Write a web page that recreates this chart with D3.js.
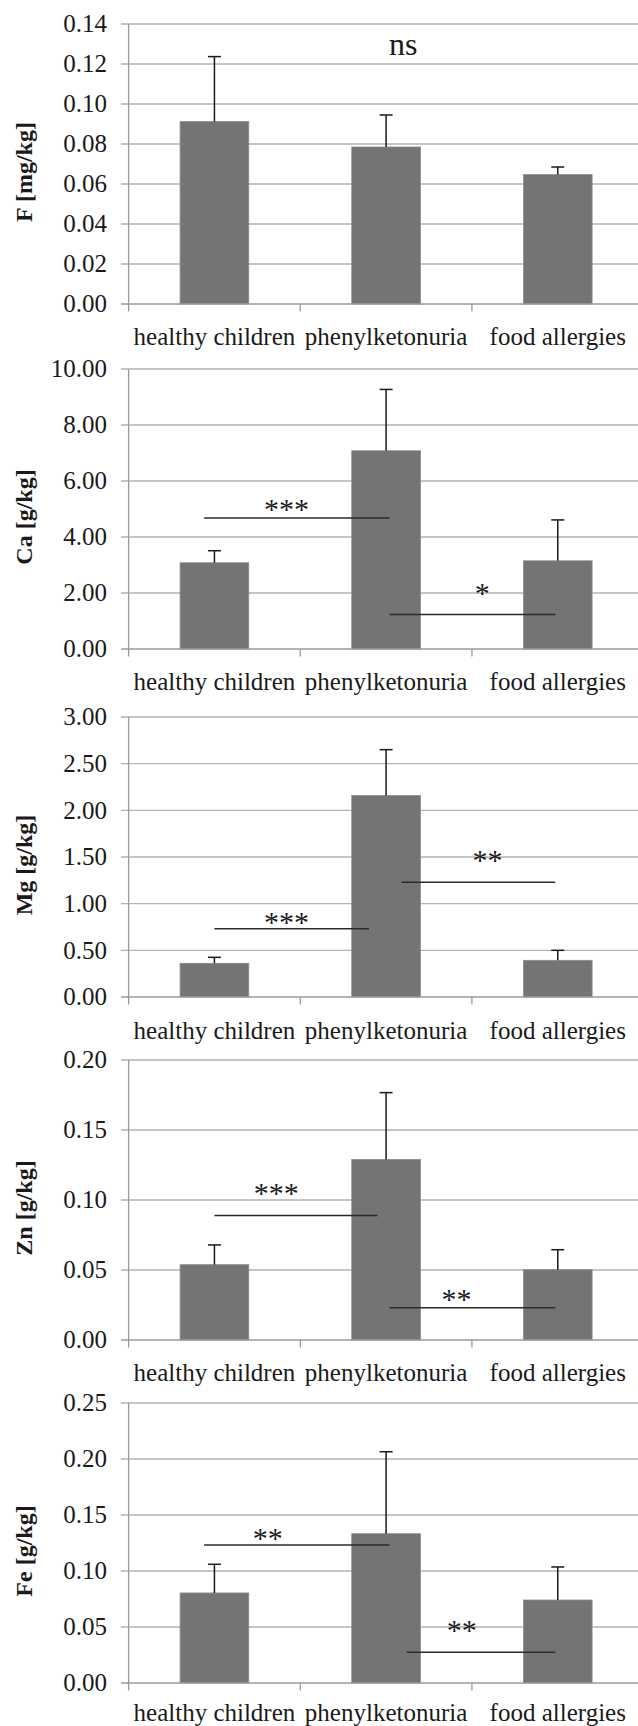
<!DOCTYPE html>
<html>
<head>
<meta charset="utf-8">
<script src="https://cdn.jsdelivr.net/npm/d3@7"></script>
<style>
  html, body { margin: 0; padding: 0; background: #fff; }
  svg { display: block; }
</style>
</head>
<body>
<svg id="chart" width="638" height="1726"></svg>
<script>
// ---------- data ----------
const categories = ["healthy children", "phenylketonuria", "food allergies"];

const fMeans  = [0.0912, 0.0785, 0.0647];
const fErrors = [0.0325, 0.0160, 0.0038];
const fTicks  = [0, 0.02, 0.04, 0.06, 0.08, 0.10, 0.12, 0.14];

const caMeans  = [3.08, 7.08, 3.15];
const caErrors = [0.43, 2.19, 1.46];
const caTicks  = [0, 2, 4, 6, 8, 10];

const mgMeans  = [0.361, 2.16, 0.393];
const mgErrors = [0.064, 0.49, 0.107];
const mgTicks  = [0, 0.5, 1.0, 1.5, 2.0, 2.5, 3.0];

const znMeans  = [0.0538, 0.129, 0.0502];
const znErrors = [0.0141, 0.0477, 0.0143];
const znTicks  = [0, 0.05, 0.10, 0.15, 0.20];

const feMeans  = [0.0804, 0.1333, 0.0741];
const feErrors = [0.0256, 0.0732, 0.0295];
const feTicks  = [0, 0.05, 0.10, 0.15, 0.20, 0.25];

// significance annotations: from/to/labelAt in category-index units, values in data units
const fSig  = [{ label: "ns", from: null, to: null, value: null, labelAt: 1.10, labelValue: 0.128, big: true }];
const caSig = [
  { label: "***", from: -0.06, to: 1.02, value: 4.68, labelAt: 0.42, labelValue: 5.14 },
  { label: "*",   from: 1.02, to: 1.985, value: 1.23, labelAt: 1.56, labelValue: 2.13 }
];
const mgSig = [
  { label: "***", from: 0.0, to: 0.90, value: 0.73, labelAt: 0.42, labelValue: 0.846 },
  { label: "**",  from: 1.09, to: 1.985, value: 1.229, labelAt: 1.59, labelValue: 1.507 }
];
const znSig = [
  { label: "***", from: 0.0, to: 0.95, value: 0.089, labelAt: 0.36, labelValue: 0.1079 },
  { label: "**",  from: 1.02, to: 1.985, value: 0.0231, labelAt: 1.41, labelValue: 0.0319 }
];
const feSig = [
  { label: "**", from: -0.06, to: 1.02, value: 0.1232, labelAt: 0.31, labelValue: 0.1333 },
  { label: "**", from: 1.12, to: 1.985, value: 0.0274, labelAt: 1.44, labelValue: 0.0506 }
];

// ---------- layout ----------
const panels = [
  { ylabel: "F [mg/kg]",  means: fMeans,  errors: fErrors,  ticks: fTicks,  sig: fSig,  top: 24,   bottom: 304,  catDy: 41 },
  { ylabel: "Ca [g/kg]",  means: caMeans, errors: caErrors, ticks: caTicks, sig: caSig, top: 369,  bottom: 649,  catDy: 41 },
  { ylabel: "Mg [g/kg]",  means: mgMeans, errors: mgErrors, ticks: mgTicks, sig: mgSig, top: 717,  bottom: 997,  catDy: 41.5 },
  { ylabel: "Zn [g/kg]",  means: znMeans, errors: znErrors, ticks: znTicks, sig: znSig, top: 1060, bottom: 1340, catDy: 40.5 },
  { ylabel: "Fe [g/kg]",  means: feMeans, errors: feErrors, ticks: feTicks, sig: feSig, top: 1403, bottom: 1683, catDy: 37.5 }
];

const W = 638;
const axisX = 128.6;
const plotRight = 643.6;
const fs = 25;
const FONT = "'Liberation Serif', 'Times New Roman', Times, 'DejaVu Serif', serif";

const svg = d3.select("#chart")
  .attr("font-family", FONT);

const x = d3.scaleBand().domain(categories).range([axisX, plotRight]).padding(0);
const xi = d3.scaleLinear().domain([-0.5, 2.5]).range([axisX, plotRight]);
const barW = x.bandwidth() * 0.4;

panels.forEach(p => {
  const maxV = p.ticks[p.ticks.length - 1];
  const y = d3.scaleLinear().domain([0, maxV]).range([p.bottom, p.top]);
  const g = svg.append("g");

  // gridlines
  g.selectAll("line.grid").data(p.ticks.slice(1)).join("line")
    .attr("x1", axisX - 7.6).attr("x2", W)
    .attr("y1", d => y(d)).attr("y2", d => y(d))
    .attr("stroke", "#b3b3b3").attr("stroke-width", 1.3);

  // tick labels
  const fmt = d3.format(".2f");
  g.selectAll("text.tick").data(p.ticks).join("text")
    .attr("x", 107).attr("y", d => y(d))
    .attr("dy", "0.33em")
    .attr("text-anchor", "end")
    .attr("font-family", FONT)
    .attr("font-size", fs)
    .attr("fill", "#1a1a1a")
    .text(d => fmt(d));

  // bars
  g.selectAll("rect.bar").data(p.means).join("rect")
    .attr("x", (d, i) => x(categories[i]) + (x.bandwidth() - barW) / 2)
    .attr("width", barW)
    .attr("y", d => y(d))
    .attr("height", d => y(0) - y(d))
    .attr("fill", "#747474")
    .attr("stroke", "#8c8c8c").attr("stroke-width", 0.8);

  // error bars (upper only)
  p.means.forEach((m, i) => {
    const cx = x(categories[i]) + x.bandwidth() / 2;
    g.append("line")
      .attr("x1", cx).attr("x2", cx)
      .attr("y1", y(m)).attr("y2", y(m + p.errors[i]))
      .attr("stroke", "#1a1a1a").attr("stroke-width", 1.5);
    g.append("line")
      .attr("x1", cx - 6.5).attr("x2", cx + 6.5)
      .attr("y1", y(m + p.errors[i])).attr("y2", y(m + p.errors[i]))
      .attr("stroke", "#1a1a1a").attr("stroke-width", 1.5);
  });

  // x axis line
  g.append("line")
    .attr("x1", axisX - 7.6).attr("x2", W)
    .attr("y1", y(0)).attr("y2", y(0))
    .attr("stroke", "#9a9a9a").attr("stroke-width", 1.3);
  // y axis line
  g.append("line")
    .attr("x1", axisX).attr("x2", axisX)
    .attr("y1", y(maxV)).attr("y2", y(0))
    .attr("stroke", "#9a9a9a").attr("stroke-width", 1.3);
  // category ticks
  const catEdges = categories.map(c => x(c)).concat([plotRight]);
  g.selectAll("line.ctick").data(catEdges).join("line")
    .attr("x1", d => d).attr("x2", d => d)
    .attr("y1", y(0)).attr("y2", y(0) + 7.5)
    .attr("stroke", "#9a9a9a").attr("stroke-width", 1.3);

  // category labels
  g.selectAll("text.cat").data(categories).join("text")
    .attr("x", d => x(d) + x.bandwidth() / 2)
    .attr("y", y(0) + p.catDy)
    .attr("text-anchor", "middle")
    .attr("font-family", FONT)
    .attr("font-size", fs)
    .attr("fill", "#1a1a1a")
    .text(d => d);

  // y label
  g.append("text")
    .attr("transform", `translate(31.5, ${p.top + 148}) rotate(-90)`)
    .attr("text-anchor", "middle")
    .attr("font-family", FONT)
    .attr("font-size", 24)
    .attr("font-weight", "bold")
    .attr("fill", "#1a1a1a")
    .text(p.ylabel);

  // significance
  p.sig.forEach(s => {
    if (s.from !== null) {
      g.append("line")
        .attr("x1", xi(s.from)).attr("x2", xi(s.to))
        .attr("y1", y(s.value)).attr("y2", y(s.value))
        .attr("stroke", "#2a2a2a").attr("stroke-width", 1.5);
    }
    const sfs = s.big ? 32 : 30;
    g.append("text")
      .attr("x", xi(s.labelAt))
      .attr("y", y(s.labelValue) + (s.big ? 0.22 : 0.47) * sfs)
      .attr("text-anchor", "middle")
      .attr("font-family", FONT)
      .attr("font-size", sfs)
      .attr("fill", "#1a1a1a")
      .text(s.label);
  });
});
</script>
</body>
</html>
